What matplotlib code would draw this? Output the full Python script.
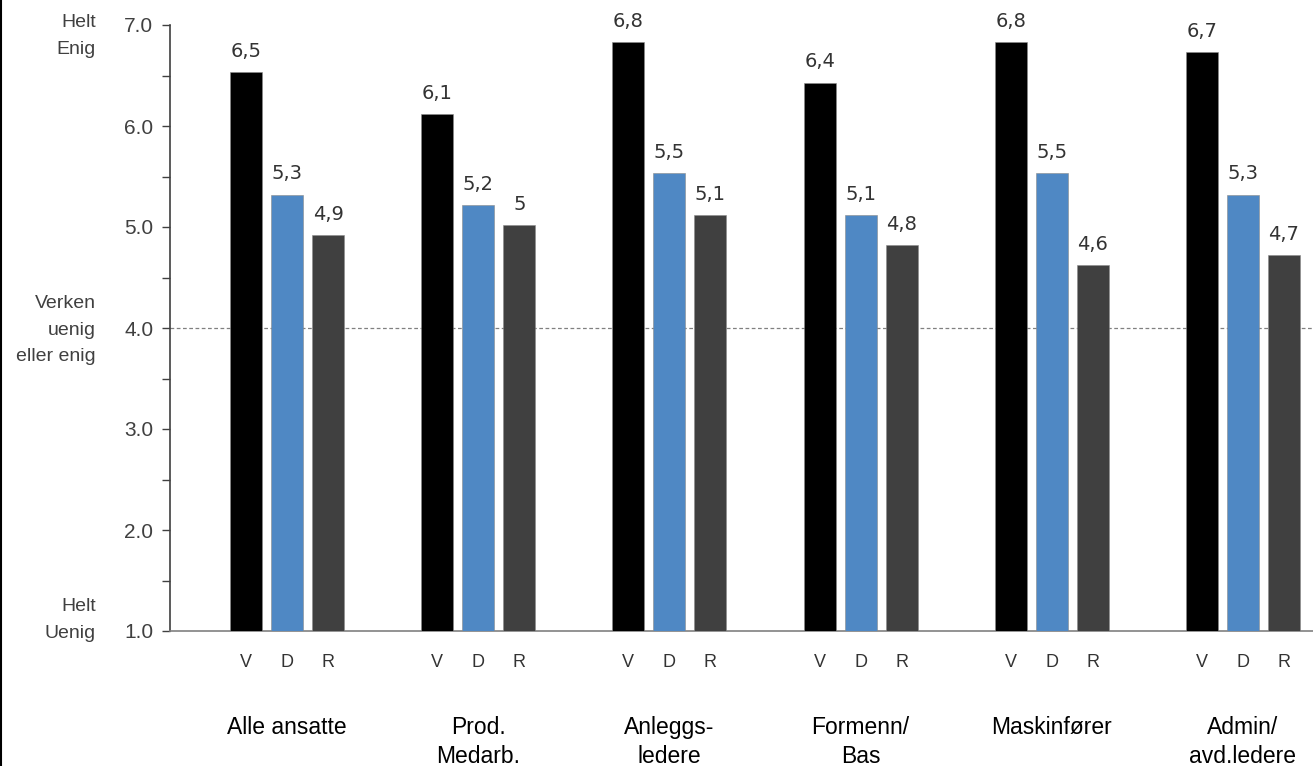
import matplotlib
matplotlib.use("Agg")
import matplotlib.pyplot as plt
import numpy as np

groups = ["Alle ansatte", "Prod.\nMedarb.", "Anleggs-\nledere", "Formenn/\nBas", "Maskinfører", "Admin/\navd.ledere"]
series = ["V", "D", "R"]
v_vals = [6.53, 6.12, 6.83, 6.43, 6.83, 6.73]
d_vals = [5.32, 5.22, 5.53, 5.12, 5.53, 5.32]
r_vals = [4.92, 5.02, 5.12, 4.82, 4.62, 4.72]
v_labels = ["6,5", "6,1", "6,8", "6,4", "6,8", "6,7"]
d_labels = ["5,3", "5,2", "5,5", "5,1", "5,5", "5,3"]
r_labels = ["4,9", "5", "5,1", "4,8", "4,6", "4,7"]
yticks = [1.0, 2.0, 3.0, 4.0, 5.0, 6.0, 7.0]

colors = ["#000000", "#4F88C4", "#404040"]

fig = plt.figure(figsize=(13.13, 7.66), dpi=100)
ax = fig.add_axes([170/1313, 1 - 631/766, 1 - 170/1313, (631 - 25)/766])

x = np.arange(len(groups))
off = 41/191
w = 32/191
base = 1.0
txt_col = "#333333"
for i, (vals, labs) in enumerate([(v_vals, v_labels), (d_vals, d_labels), (r_vals, r_labels)]):
    pos = x + (i - 1) * off
    ax.bar(pos, np.array(vals) - base, bottom=base, width=w, color=colors[i],
           edgecolor="#8a8a8a", linewidth=0.4, zorder=3)
    for p, v, l in zip(pos, vals, labs):
        ax.annotate(l, (p, v), xytext=(0, 11), textcoords="offset points",
                    ha="center", va="baseline", fontsize=14, family="DejaVu Sans",
                    color=txt_col)
    for p in pos:
        ax.text(p, -36/606, series[i], transform=ax.get_xaxis_transform(),
                ha="center", va="baseline", fontsize=13, family="Liberation Sans", color=txt_col)

for g, label in zip(x, groups):
    ax.text(g, -85/606, label, transform=ax.get_xaxis_transform(), ha="center", va="top",
            fontsize=16.5, family="Liberation Sans", color="#000000", linespacing=1.35)

ax.axhline(4.0, color="#808080", linestyle=(0, (3, 2)), linewidth=0.9, zorder=1)

ax.set_xlim(-117/191, 5 + (1313 - 1243)/191)
ax.set_ylim(1.0, 7.0)
ax.set_yticks(yticks)
ax.set_yticklabels([f"{t:.1f}" for t in yticks], fontsize=15, family="Liberation Sans", color="#404040")
ax.set_yticks(np.arange(1.5, 7.0, 1.0), minor=True)
ax.tick_params(axis="y", which="major", length=6, width=1, color="#404040", pad=6)
ax.tick_params(axis="y", which="minor", length=6, width=1, color="#404040")
ax.set_xticks([])
for s in ["top", "right"]:
    ax.spines[s].set_visible(False)
ax.spines["left"].set_color("#404040")
ax.spines["left"].set_linewidth(1.2)
ax.spines["bottom"].set_color("#808080")
ax.spines["bottom"].set_linewidth(1.2)

lab_kw = dict(ha="right", fontsize=14, family="Liberation Sans", color="#404040",
              transform=fig.transFigure, linespacing=1.7)
fig.text(96/1313, 1 - 36/766, "Helt\nEnig", va="center", **lab_kw)
fig.text(96/1313, 1 - 330/766, "Verken\nuenig\neller enig", va="center", **lab_kw)
fig.text(96/1313, 1 - 620/766, "Helt\nUenig", va="center", **lab_kw)

# left border line as in the reference
fig.add_artist(plt.Line2D([1/1313, 1/1313], [0, 1], color="#000000", linewidth=1.5,
                          transform=fig.transFigure))

fig.savefig("out.png", dpi=100)
